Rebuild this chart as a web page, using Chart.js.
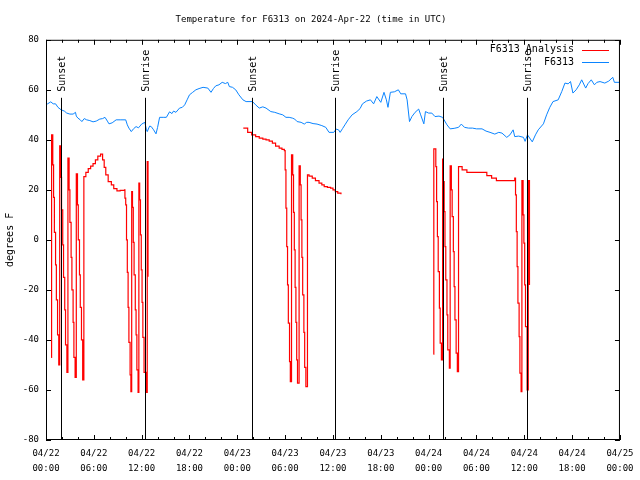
<!DOCTYPE html>
<html>
<head>
<meta charset="utf-8">
<title>Temperature for F6313</title>
<script src="https://cdn.jsdelivr.net/npm/chart.js@4.4.1/dist/chart.umd.min.js"></script>
<style>
  html, body { margin: 0; padding: 0; background: #fff; }
</style>
</head>
<body>
<canvas id="myChart" width="640" height="480"></canvas>
<script>
// hours since 2024-04-22 00:00 UTC
var stationHours = [0.0, 0.2, 0.6, 0.9, 1.2, 1.5, 1.9, 2.3, 2.6, 3.0, 3.4, 3.7, 3.8, 4.0, 4.3, 4.5, 4.8, 5.1, 5.5, 5.9,
    6.3, 6.75, 7.1, 7.4, 7.7, 7.9, 8.3, 8.8, 9.3, 10.0, 10.2, 10.4, 10.7, 11.0, 11.3, 11.6, 12.0, 12.4, 12.6, 12.7,
    13.0, 13.2, 13.5, 13.8, 14.0, 14.25, 14.7, 15.1, 15.5, 15.8, 16.0, 16.3, 16.75, 17.1, 17.4, 17.7, 18.0, 18.4, 18.8, 19.2,
    19.7, 20.3, 20.7, 21.0, 21.3, 21.7, 22.1, 22.5, 22.8, 23.0, 23.4, 23.8, 24.2, 24.7, 25.1, 25.9, 26.3, 26.75, 27.2, 27.6,
    28.2, 28.7, 29.25, 29.7, 30.1, 30.5, 30.9, 31.2, 31.5, 32.0, 32.4, 32.7, 33.0, 33.5, 34.0, 34.6, 35.1, 35.5, 36.1, 36.4,
    36.7, 36.9, 37.2, 37.5, 37.9, 38.4, 39.0, 39.4, 39.7, 40.2, 40.7, 41.1, 41.5, 42.0, 42.4, 42.7, 42.9, 43.2, 43.7, 44.2,
    44.5, 45.1, 45.3, 45.6, 45.9, 46.3, 46.75, 47.0, 47.4, 47.6, 48.0, 48.4, 48.8, 49.3, 49.75, 50.3, 50.7, 51.2, 51.75, 52.1,
    52.5, 53.0, 53.5, 54.0, 54.7, 55.2, 55.7, 56.3, 56.8, 57.2, 57.8, 58.2, 58.6, 58.8, 59.3, 59.9, 60.1, 60.4, 61.0, 61.4,
    61.75, 62.4, 62.8, 63.2, 63.6, 64.25, 64.7, 65.1, 65.5, 65.8, 66.1, 66.5, 66.9, 67.2, 67.7, 68.0, 68.4, 68.8, 69.1, 69.5,
    70.1, 70.6, 71.1, 71.3, 72.0];
var stationTemps = [54.4, 54.4, 55.2, 54.4, 54.4, 53, 52, 51.5, 50.7, 50.3, 50.3, 51, 49.5, 48.7, 48, 47.3, 48.5, 48, 47.7, 47.2,
    47.5, 48.3, 48.5, 49, 47.5, 46.4, 46.8, 48, 48, 48, 46, 44.7, 43.3, 44.5, 45.3, 44.8, 46.3, 47, 44, 43.3,
    45.5, 45.3, 44, 42.4, 45, 49, 49, 49, 51.2, 50.5, 51.5, 51, 52.7, 53, 54, 56, 58, 59, 60, 60.5,
    61, 60.7, 59, 60.5, 61.6, 62, 63, 62.5, 63, 61.3, 61, 60, 58, 56, 55.3, 55.3, 54, 52.7, 53.2, 52.7,
    51.3, 51, 50.4, 50, 49, 49, 48.7, 48.3, 47.3, 47, 46.3, 47, 47, 46.5, 46.3, 45.7, 45, 43, 43, 44.3,
    44, 43, 44.5, 46, 48, 50, 51.3, 52.5, 54.4, 55.5, 56, 54.4, 57.3, 55, 59, 56, 53, 59, 59.2, 60,
    58.4, 58.4, 56, 47.3, 49.3, 51, 52.3, 50, 46.4, 51.3, 50.7, 50.7, 49.3, 49.5, 49, 46, 44.4, 44.6, 45, 46.3,
    45, 44.7, 44.7, 44.4, 44.4, 43.5, 43, 42.3, 43, 42.7, 41, 42, 44, 41.3, 41.5, 41, 39.4, 42, 39.2, 42,
    44, 46.4, 50, 53, 55.3, 56, 59.3, 62.7, 62.4, 63.3, 58.7, 60, 62, 64, 60.7, 62.5, 64, 62, 63, 63.3,
    62.7, 63.5, 65, 63, 63];

// analysis series, null = no data
var analysisHours = [0.65, 0.7, 0.85, 0.95, 1.05, 1.2, 1.3, 1.45, 1.6,
    1.72, 1.85, 1.95, 2.1, 2.2, 2.35, 2.45, 2.62,
    2.75, 2.9, 3.0, 3.15, 3.25, 3.4, 3.5, 3.65,
    3.8, 3.95, 4.05, 4.2, 4.3, 4.45, 4.6,
    4.75, 5.0, 5.3, 5.6, 5.9, 6.2, 6.5, 6.85, 7.1, 7.3, 7.5, 7.8, 8.2, 8.5, 8.9, 9.3, 9.85,
    9.9, 10.0, 10.1, 10.2, 10.3, 10.4, 10.55, 10.65,
    10.75, 10.85, 10.95, 11.05, 11.2, 11.3, 11.4, 11.55,
    11.65, 11.75, 11.85, 11.95, 12.05, 12.15, 12.3, 12.6,
    12.7, 12.8, 13.0,
    24.75, 25.3, 25.8, 26.3, 26.75, 27.2, 27.6, 28.0, 28.4, 28.8, 29.25, 29.6, 29.9,
    30.0, 30.1, 30.2, 30.3, 30.4, 30.55, 30.65,
    30.8, 30.95, 31.05, 31.15, 31.25, 31.35, 31.45, 31.55,
    31.75, 31.9, 32.0, 32.1, 32.2, 32.35, 32.45, 32.6,
    32.8, 33.0, 33.4, 33.8, 34.25, 34.6, 34.9, 35.3, 35.7, 36.0, 36.3, 36.6, 37.0, 37.2,
    48.6, 48.65, 48.9, 49.0, 49.1, 49.2, 49.35, 49.45, 49.6,
    49.75, 49.85, 49.95, 50.05, 50.15, 50.3, 50.4, 50.6,
    50.7, 50.85, 50.95, 51.1, 51.2, 51.3, 51.45, 51.6,
    51.75, 52.2, 52.8, 53.5, 54.2, 54.9, 55.3, 55.9, 56.5, 57.2, 58.0, 58.8,
    58.9, 59.0, 59.1, 59.2, 59.35, 59.45, 59.6,
    59.7, 59.85, 59.95, 60.05, 60.15, 60.35,
    60.5, 60.65];
var analysisTemps = [-47, 42, 30, 17, 3, -10, -24, -38, -50,
    37.6, 25, 12, -2, -15, -28, -42, -53,
    32.7, 20, 7, -7, -20, -33, -47, -55,
    26.4, 14, 0, -14, -27, -40, -56,
    25.3, 27, 28.5, 29.5, 30.5, 32, 33.5, 34.3, 32, 29, 26, 23.3, 22, 20.5, 19.6, 19.8, 20,
    16.7, 14, 0, -13, -27, -41, -54, -60.7,
    19.3, 13, -1, -14, -28, -38, -52, -61,
    22.7, 16, 2, -12, -25, -39, -53, -61,
    31.3, -14.7, null,
    44.7, 43, 42, 41.3, 40.7, 40.3, 40, 39.5, 38.7, 37.5, 36.7, 36.2, 35.7,
    28, 12.7, -2.7, -18, -33.3, -48.7, -56.7,
    34, 26, 11, -4, -19, -33, -48, -57.3,
    29.6, 22, 8, -7, -22, -37, -51, -58.7,
    26, 25.5, 24.7, 23.7, 22.7, 22, 21.3, 21, 20.7, 20, 19.3, 18.7, 18.3, null,
    -45.7, 36.4, 29.3, 15.3, 1.3, -12.7, -27.3, -41.3, -48,
    32.3, 23.3, 11.3, -2.7, -16, -30, -44, -51.3,
    29.6, 20, 9.3, -4.7, -18.7, -32, -45.3, -52.7,
    29.3, 28, 27, 27, 27, 27, 25.7, 24.7, 23.7, 23.7, 23.7, 24.7,
    18, 3.3, -10.7, -25.3, -38.7, -53.3, -60.7,
    23.7, 10, -1.3, -18, -34.7, -60,
    23.7, -18];

var sunHours = [1.83, 12.46, 25.8, 36.3, 49.8, 60.3];
var sunLabels = ['Sunset', 'Sunrise', 'Sunset', 'Sunrise', 'Sunset', 'Sunrise'];

var xTickLabels = [
    ['04/22', '00:00'], ['04/22', '06:00'], ['04/22', '12:00'], ['04/22', '18:00'],
    ['04/23', '00:00'], ['04/23', '06:00'], ['04/23', '12:00'], ['04/23', '18:00'],
    ['04/24', '00:00'], ['04/24', '06:00'], ['04/24', '12:00'], ['04/24', '18:00'],
    ['04/25', '00:00']
];

var MONO = '"DejaVu Sans Mono", "Liberation Mono", monospace';

function toPoints(xs, ys) {
    var pts = [];
    for (var i = 0; i < xs.length; i++) {
        pts.push({ x: xs[i], y: ys[i] });
    }
    return pts;
}

// gnuplot-like frame: border, inward ticks, sun markers, key
var gnuplotFrame = {
    id: 'gnuplotFrame',
    afterDatasetsDraw: function (chart) {
        var ctx = chart.ctx;
        var a = chart.chartArea;
        var xs = chart.scales.x;
        var ys = chart.scales.y;
        ctx.save();
        ctx.strokeStyle = '#000';
        ctx.fillStyle = '#000';
        ctx.lineWidth = 1;

        function seg(x1, y1, x2, y2) {
            ctx.beginPath();
            ctx.moveTo(x1, y1);
            ctx.lineTo(x2, y2);
            ctx.stroke();
        }

        // sunrise / sunset lines
        ctx.font = '10px ' + MONO;
        for (var i = 0; i < sunHours.length; i++) {
            var px = Math.round(xs.getPixelForValue(sunHours[i])) + 0.5;
            seg(px, a.top + 58, px, a.bottom);
            ctx.save();
            ctx.translate(px + 1, a.top + 52);
            ctx.rotate(-Math.PI / 2);
            ctx.textAlign = 'left';
            ctx.textBaseline = 'middle';
            ctx.fillText(sunLabels[i], 0, 0);
            ctx.restore();
        }

        // border
        ctx.strokeRect(a.left + 0.5, a.top + 0.5, a.right - a.left - 1, a.bottom - a.top - 1);

        // x ticks (major every 6h, minor every 2h), top and bottom
        for (var h = xs.min; h <= xs.max; h += 2) {
            var tx = Math.round(xs.getPixelForValue(h)) + 0.5;
            var len = (h % 6 === 0) ? 5 : 3;
            seg(tx, a.bottom, tx, a.bottom - len);
            seg(tx, a.top, tx, a.top + len);
        }
        // y ticks, left and right
        ys.ticks.forEach(function (t) {
            var ty = Math.round(ys.getPixelForValue(t.value)) + 0.5;
            seg(a.left, ty, a.left + 5, ty);
            seg(a.right, ty, a.right - 5, ty);
        });

        // key
        ctx.textAlign = 'right';
        ctx.textBaseline = 'middle';
        chart.data.datasets.forEach(function (ds, k) {
            var ky = a.top + 10 + k * 12.5;
            ctx.fillStyle = '#000';
            ctx.fillText(ds.label, 574, ky);
            ctx.strokeStyle = ds.borderColor;
            seg(582, Math.round(ky) + 0.5, 609, Math.round(ky) + 0.5);
        });
        ctx.restore();
    }
};

var ctx = document.getElementById('myChart').getContext('2d');
var myChart = new Chart(ctx, {
    type: 'line',
    data: {
        datasets: [{
            label: 'F6313 Analysis',
            data: toPoints(analysisHours, analysisTemps),
            borderColor: '#ff0000',
            borderWidth: 1.2,
            pointRadius: 0,
            stepped: true,
            spanGaps: false
        }, {
            label: 'F6313',
            data: toPoints(stationHours, stationTemps),
            borderColor: '#0a84ff',
            borderWidth: 1,
            pointRadius: 0,
            tension: 0
        }]
    },
    options: {
        responsive: false,
        animation: false,
        devicePixelRatio: 1,
        layout: { padding: { left: 0, right: 18, top: 0, bottom: 0 } },
        plugins: {
            legend: { display: false },
            tooltip: { enabled: false },
            title: {
                display: true,
                text: 'Temperature for F6313 on 2024-Apr-22 (time in UTC)',
                color: '#000',
                font: { family: MONO, size: 9, weight: 'normal' },
                padding: { top: 14, bottom: 15 }
            }
        },
        scales: {
            x: {
                type: 'linear',
                min: 0,
                max: 72,
                grid: { display: false, drawTicks: false },
                border: { display: false },
                ticks: {
                    stepSize: 6,
                    autoSkip: false,
                    maxRotation: 0,
                    padding: 6.5,
                    color: '#000',
                    font: { family: MONO, size: 9, lineHeight: 1.667 },
                    callback: function (value) {
                        return xTickLabels[Math.round(value / 6)];
                    }
                },
                afterFit: function (scale) { scale.height = 40; }
            },
            y: {
                min: -80,
                max: 80,
                grid: { display: false, drawTicks: false },
                border: { display: false },
                ticks: {
                    stepSize: 20,
                    padding: 7,
                    color: '#000',
                    font: { family: MONO, size: 9 }
                },
                title: {
                    display: true,
                    text: 'degrees F',
                    color: '#000',
                    font: { family: MONO, size: 10 },
                    padding: { top: 4, bottom: 0 }
                },
                afterFit: function (scale) { scale.width = 46; }
            }
        }
    },
    plugins: [gnuplotFrame]
});
</script>
</body>
</html>
